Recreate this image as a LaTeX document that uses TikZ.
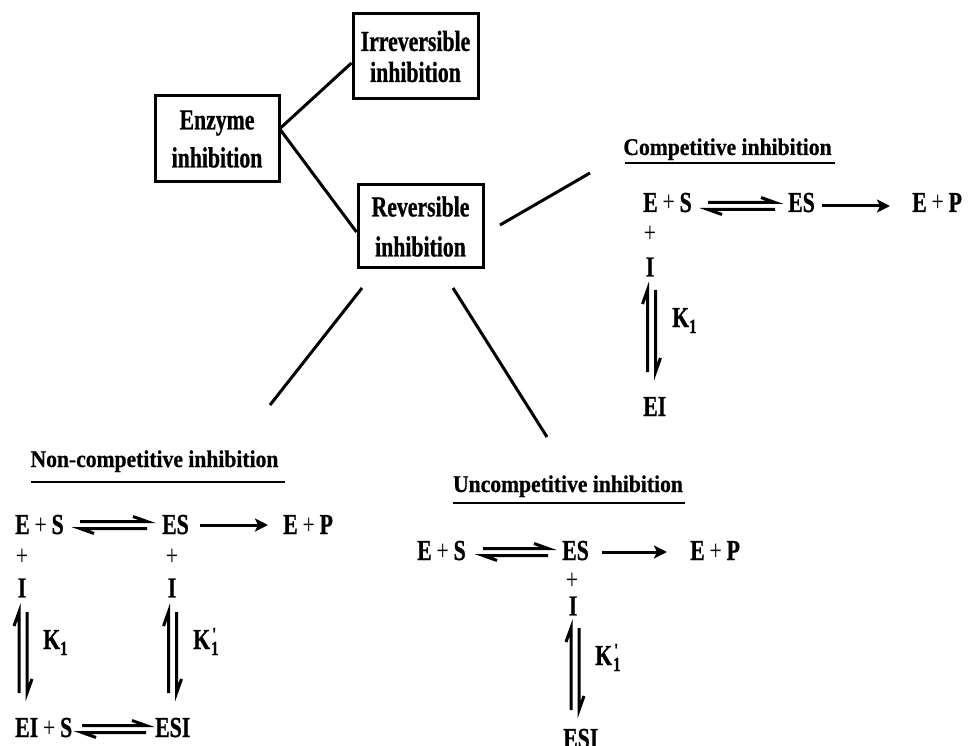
\documentclass[tikz,border=0pt]{standalone}
\usepackage{fontspec}
\setmainfont{Liberation Serif}
\newfontfamily\eqf{Liberation Serif}[FakeStretch=0.75,FakeBold=0.8]
\newfontfamily\eqfm{Liberation Serif}[FakeStretch=0.75]
\newfontfamily\ttlf{Liberation Serif}[FakeStretch=0.9,FakeBold=0.6]
\usetikzlibrary{arrows.meta}
\tikzset{
  eqtext/.style={inner sep=0pt, anchor=base west, font=\eqf\bfseries\fontsize{29}{31}\selectfont},
  ctext/.style={inner sep=0pt, anchor=center, font=\eqf\bfseries\fontsize{29}{31}\selectfont},
  plustext/.style={inner sep=0pt, anchor=center, font=\eqfm\mdseries\fontsize{29}{31}\selectfont},
  ttl/.style={inner sep=0pt, anchor=base, font=\ttlf\bfseries\fontsize{24}{26}\selectfont},
  box/.style={draw, line width=3pt, align=center, inner sep=0pt, font=\eqf\bfseries\fontsize{29}{31}\selectfont},
  link/.style={line width=3pt},
  hp/.style={line width=3pt},
  rx/.style={line width=3pt, -{Stealth[length=13pt,width=13pt,inset=3pt]}},
  uline/.style={line width=1.4pt}
}
\newcommand{\pl}{{\eqfm\mdseries\,+\,}}
\newcommand{\Kone}{K\raisebox{-6pt}{\fontsize{20}{20}\selectfont 1}}
\newcommand{\Kpone}{K\kern1pt\rlap{\kern1pt\raisebox{8pt}{\fontsize{20}{20}\selectfont\textquotesingle}}\raisebox{-6pt}{\fontsize{20}{20}\selectfont 1}}
% horizontal equilibrium: name, x1, x2, ymid
\newcommand{\eqH}[4]{%
  \coordinate (#1a) at (#2,#4-3.5); \coordinate (#1b) at (#3,#4-3.5);
  \coordinate (#1c) at (#3,#4+3.5); \coordinate (#1d) at (#2,#4+3.5);
  \draw[hp] (#1a) -- (#1b) -- ++(-14,-5);
  \draw[hp] (#1c) -- (#1d) -- ++(14,5);}
% vertical equilibrium: name, xmid, ytop, ybottom
\newcommand{\eqV}[4]{%
  \coordinate (#1a) at (#2-4,#4); \coordinate (#1b) at (#2-4,#3);
  \coordinate (#1c) at (#2+4,#3); \coordinate (#1d) at (#2+4,#4);
  \draw[hp] (#1a) -- (#1b) -- ++(-5,14);
  \draw[hp] (#1c) -- (#1d) -- ++(5,-14);}
\begin{document}
\begin{tikzpicture}[x=1pt,y=-1pt]
\useasboundingbox (0,0) rectangle (975,746);
% ---- boxes
\node[box, minimum width=124pt, minimum height=86pt] (enz) at (217,139) {Enzyme\\[7pt]inhibition};
\node[box, minimum width=125pt, minimum height=85pt] (irr) at (415.5,56.5) {Irreversible\\inhibition};
\node[box, minimum width=125pt, minimum height=83pt] (rev) at (420.5,226.5) {Reversible\\[9pt]inhibition};
\draw[link] ([yshift=11pt]enz.east) -- ([yshift=-6.5pt]irr.west);
\draw[link] ([yshift=9pt]enz.east) -- ([yshift=-5.5pt]rev.west);
% ---- branches from reversible
\coordinate (b1s) at (500,225); \coordinate (b1e) at (590,173);
\coordinate (b2s) at (362,288); \coordinate (b2e) at (270,405);
\coordinate (b3s) at (453,288); \coordinate (b3e) at (547,437);
\draw[link] (b1s) -- (b1e);
\draw[link] (b2s) -- (b2e);
\draw[link] (b3s) -- (b3e);
% ---- competitive
\node[ttl] (ct) at (727.5,155) {Competitive inhibition};
\coordinate (ctl) at (625,163); \coordinate (ctr) at (835,163);
\draw[uline] (ctl) -- (ctr);
\node[eqtext] (c1) at (643,212) {E\pl S};
\node[eqtext] (c2) at (788,212) {ES};
\node[eqtext] (c3) at (912,212) {E\pl P};
\eqH{ceq}{708}{775}{206}
\coordinate (cra) at (822,206); \coordinate (crb) at (890,206);
\draw[rx] (cra) -- (crb);
\node[plustext] (cp) at (650,234) {+};
\node[ctext] (ci) at (650,267) {I};
\eqV{cv}{651.5}{290}{372}
\node[eqtext] (ck) at (672,327) {\Kone};
\node[eqtext] (cei) at (643,416) {EI};
% ---- non-competitive
\node[ttl] (nt) at (154.5,467) {Non-competitive inhibition};
\coordinate (ntl) at (31,482); \coordinate (ntr) at (285,482);
\draw[uline] (ntl) -- (ntr);
\node[eqtext] (n1) at (15,534) {E\pl S};
\node[eqtext] (n2) at (162,534) {ES};
\node[eqtext] (n3) at (283,534) {E\pl P};
\eqH{neq}{80}{147}{525}
\coordinate (nra) at (200,525); \coordinate (nrb) at (268,525);
\draw[rx] (nra) -- (nrb);
\node[plustext] (np1) at (22,557) {+};
\node[plustext] (np2) at (172,557) {+};
\node[ctext] (ni1) at (22,588) {I};
\node[ctext] (ni2) at (172,588) {I};
\eqV{nv1}{23}{612}{693}
\eqV{nv2}{172.5}{612}{693}
\node[eqtext] (nk1) at (43,649) {\Kone};
\node[eqtext] (nk2) at (193,649) {\Kpone};
\node[eqtext] (n4) at (15,737) {EI\pl S};
\node[eqtext] (n5) at (155,737) {ESI};
\eqH{neq2}{82}{146}{729}
% ---- uncompetitive
\node[ttl] (ut) at (568,492) {Uncompetitive inhibition};
\coordinate (utl) at (453,503); \coordinate (utr) at (685,503);
\draw[uline] (utl) -- (utr);
\node[eqtext] (u1) at (417,560) {E\pl S};
\node[eqtext] (u2) at (562,560) {ES};
\node[eqtext] (u3) at (690,560) {E\pl P};
\eqH{ueq}{483}{548}{552}
\coordinate (ura) at (602,552); \coordinate (urb) at (667,552);
\draw[rx] (ura) -- (urb);
\node[plustext] (up) at (572,581) {+};
\node[ctext] (ui) at (573,606) {I};
\eqV{uv}{575}{628}{710}
\node[eqtext] (uk) at (595,665) {\Kpone};
\node[eqtext] (u4) at (563,748) {ESI};
\end{tikzpicture}
\end{document}
